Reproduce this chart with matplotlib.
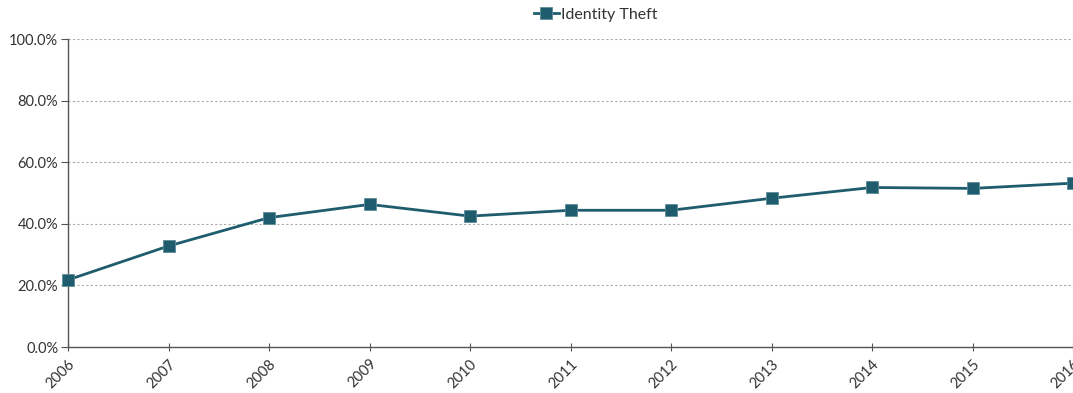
import matplotlib
matplotlib.use("Agg")
import matplotlib.pyplot as plt
from matplotlib.ticker import FuncFormatter

years = [2006, 2007, 2008, 2009, 2010, 2011, 2012, 2013, 2014, 2015, 2016]
identity_theft = [21.8, 32.8, 42.0, 46.3, 42.5, 44.4, 44.4, 48.3, 51.8, 51.5, 53.2]
series_name = "Identity Theft"

plt.rcParams['font.family'] = ['Lato', 'DejaVu Sans']

fig = plt.figure(figsize=(10.73, 3.93), dpi=100)
ax = fig.add_axes([0.0634, 0.117, 0.9366, 0.7837])

line_color = "#1f5c6e"
ax.plot(years, identity_theft, color=line_color, lw=2, marker='s', markersize=9,
        markeredgecolor="#5f8d99", markeredgewidth=0.6, label=series_name, clip_on=False, zorder=3)

ax.set_xlim(2006, 2016)
ax.set_ylim(0, 100)
ax.set_yticks(range(0, 101, 20))
ax.yaxis.set_major_formatter(FuncFormatter(lambda v, p: f"{v:.1f}%"))
ax.set_xticks(years)
ax.set_xticklabels([str(y) for y in years], rotation=45, ha='right', va='top',
                   rotation_mode='anchor')

ax.grid(axis='y', color='#aaaaaa', ls=(0, (2, 2)), lw=0.8)
ax.set_axisbelow(True)
for s in ['top', 'right']:
    ax.spines[s].set_visible(False)
for s in ['left', 'bottom']:
    ax.spines[s].set_color('#555555')
    ax.spines[s].set_linewidth(1)

ax.tick_params(axis='y', colors='#555555', labelcolor='#333333', labelsize=10.5, length=5, pad=2)
ax.tick_params(axis='x', colors='#555555', labelcolor='#333333', labelsize=10.5,
               direction='inout', length=6, pad=4)

# legend above the plot, centred a little right of the middle
fig.legend(loc='center', bbox_to_anchor=(0.555, 0.962), frameon=False, fontsize=11.5,
           handlelength=1.6, handletextpad=0.1, labelcolor='#333333')

fig.savefig("out.png", dpi=100)
